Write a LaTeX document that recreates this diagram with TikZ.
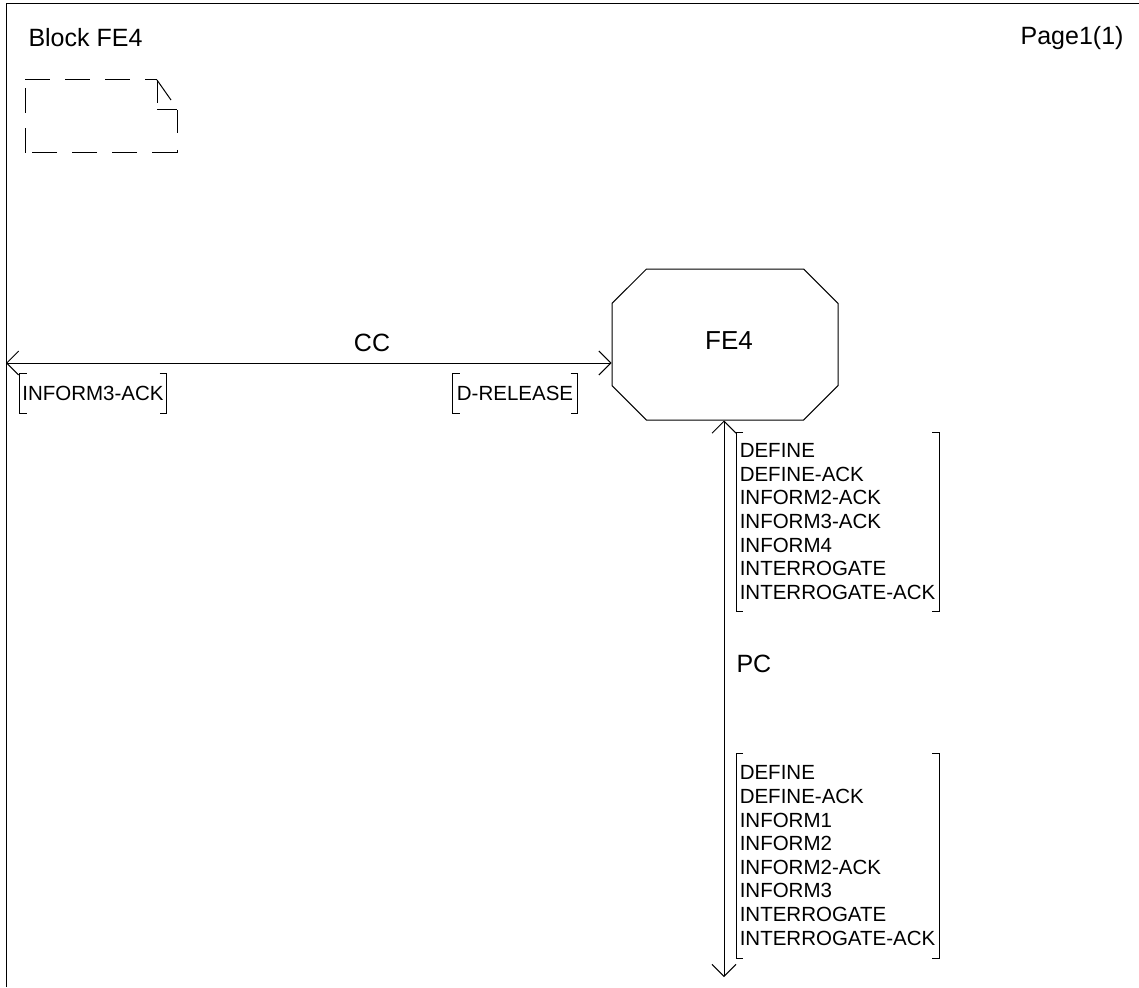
\documentclass[tikz,border=0pt]{standalone}
\usepackage{fontspec}
\setmainfont{Liberation Sans}
\usetikzlibrary{arrows.meta,shapes.misc}
\begin{document}
\begin{tikzpicture}[x=1pt,y=-1pt,line width=1pt,
  barb/.tip={Straight Barb[length=12pt,width=24pt]},
  sig/.style={barb-barb},
  title/.style={inner sep=0pt,font=\fontsize{25}{30}\selectfont},
  big/.style={inner sep=0pt,font=\fontsize{25}{30}\selectfont},
  proc/.style={draw,chamfered rectangle,chamfered rectangle xsep=22pt,
    chamfered rectangle ysep=22pt,minimum width=226pt,minimum height=151pt,
    inner sep=0pt,text depth=7pt,font=\fontsize{26}{31}\selectfont},
  sbox/.style={inner sep=0pt,align=center,font=\fontsize{20.5}{24}\selectfont},
  lbox/.style={inner xsep=2pt,inner ysep=0pt,align=left,
    font=\fontsize{20.5}{23.6}\selectfont},
  dashsym/.style={dash pattern=on 25pt off 15pt}]
\useasboundingbox (0,0) rectangle (1139,987);

% page frame
\draw (6,987) -- (6,4) -- (1139,4);

% header texts
\node[title,anchor=base west] (blk) at (28,46.5) {Block FE4};
\node[title,anchor=base east] (pg) at (1124,45) {Page1(1)};

% dashed block reference symbol
\draw[dashsym] (25,80) -- (157,80);
\draw[dashsym] (25,153) -- (25,80);
\draw[dashsym] (177,153) -- (32,153);
\draw[dash pattern=on 23pt off 17pt] (177,110) -- (177,153);
\draw (157,110) -- (177,110);
\draw (157,80) -- (157,103);
\draw (157,80) -- (171,100);

% process
\node[proc] (fe4) at (725,344.5) {\hspace*{8pt}FE4};

% channel CC
\coordinate (ccL) at (6,363);
\draw[sig] (ccL) -- (ccL -| fe4.west);
\node[big] (cc) at (372,343) {CC};

% channel PC
\coordinate (pcB) at (724,977);
\draw[sig] (fe4.south -| pcB) -- (pcB);
\node[big,anchor=west] (pc) at (736,664) {PC};

% signal lists
\node[sbox,minimum width=146pt,minimum height=39pt] (m1) at (93,393.5) {INFORM3-ACK};
\node[sbox,minimum width=124pt,minimum height=39pt] (m2) at (515,393.5) {D-RELEASE};
\node[lbox,minimum width=202pt,minimum height=178pt,anchor=north west] (m3) at (736,432)
  {DEFINE\\DEFINE-ACK\\INFORM2-ACK\\INFORM3-ACK\\INFORM4\\INTERROGATE\\INTERROGATE-ACK};
\node[lbox,minimum width=202pt,minimum height=204pt,anchor=north west] (m4) at (736,753)
  {DEFINE\\DEFINE-ACK\\INFORM1\\INFORM2\\INFORM2-ACK\\INFORM3\\INTERROGATE\\INTERROGATE-ACK};

% brackets around the signal lists
\foreach \b in {m1,m2,m3,m4} {
  \draw ([xshift=7pt]\b.north west) -- (\b.north west) -- (\b.south west) -- ([xshift=7pt]\b.south west);
  \draw ([xshift=-7pt]\b.north east) -- (\b.north east) -- (\b.south east) -- ([xshift=-7pt]\b.south east);
}
\end{tikzpicture}
\end{document}
